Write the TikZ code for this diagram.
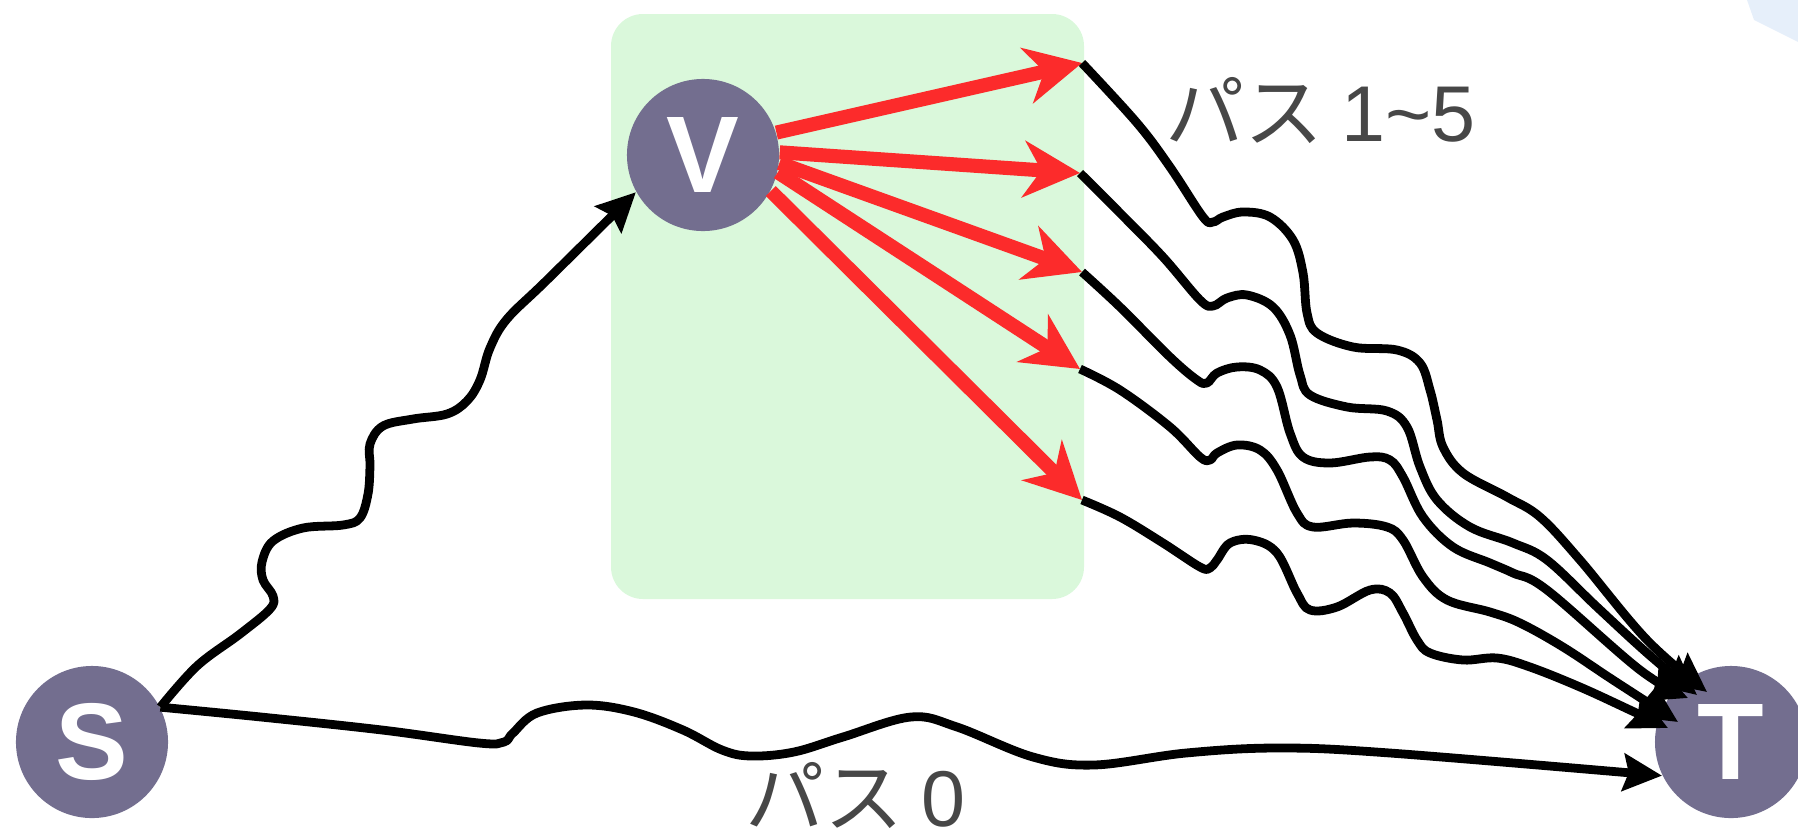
\documentclass[tikz,border=0pt]{standalone}
\usepackage{fontspec}
\usetikzlibrary{arrows.meta}
\newfontfamily\jpfont{Noto Sans CJK JP}
\newfontfamily\lblfont{Liberation Sans}
\definecolor{node_purple}{HTML}{736E8F}
\definecolor{box_green}{HTML}{DAF8DB}
\definecolor{path_red}{HTML}{FC2B2B}
\definecolor{text_gray}{HTML}{474747}
\definecolor{corner_blue}{HTML}{E6EFFA}
\tikzset{
  vertex/.style={circle, fill=node_purple, minimum size=1.52cm, inner sep=0pt, text=white, font=\lblfont\bfseries\fontsize{31}{31}\selectfont},
  hop/.style={-{Stealth[length=16pt, width=16pt, inset=5pt]}, draw=path_red, line width=4pt},
  wave/.style={-{Stealth[length=11pt, width=10.5pt, inset=1.5pt]}, draw=black, line width=2.5pt, line join=round},
  caption/.style={text=text_gray, font=\jpfont\fontsize{22.5}{27}\selectfont, inner sep=0pt, anchor=base west},
}
\newcommand{\wavy}[1]{\draw[wave] plot[smooth, tension=0.6] coordinates {#1};}

\begin{document}
\begin{tikzpicture}[x=0.01cm, y=-0.01cm]

  \useasboundingbox (0,0) rectangle (1798,839);

  % --- background ----------------------------------------------------------
  \fill[corner_blue] (1747,0) -- (1754,20) -- (1798,42) -- (1798,0) -- cycle;
  \fill[box_green, rounded corners=0.32cm] (611,14) rectangle (1084,599);

  % --- vertices ------------------------------------------------------------
  \node[vertex] (s) at (92,742) {S};
  \node[vertex] (v) at (703,155) {V};
  \node[vertex] (t) at (1731,742) {T};

  % ends of the red hops, and where the paths hit t
  \coordinate (p1) at (1082,63);
  \coordinate (p2) at (1080,173);
  \coordinate (p3) at (1082,272);
  \coordinate (p4) at (1080,369);
  \coordinate (p5) at (1082,500);
  \coordinate (in1) at ([shift={(-24,-50)}]t.center);
  \coordinate (in2) at ([shift={(-34,-47)}]t.center);
  \coordinate (in3) at ([shift={(-43,-44)}]t.center);
  \coordinate (in4) at ([shift={(-53,-20)}]t.center);
  \coordinate (in5) at ([shift={(-63,-14)}]t.center);

  % --- s to v, and path 0 --------------------------------------------------
  \wavy{(s.27) (197,666) (240,634) (270,609) (273,596) (263,580) (262,562)
    (273,541) (303,528) (343,525) (360,518) (368,494) (370,466) (370,444)
    (383,426) (413,419) (447,414) (467,401) (480,380) (490,348) (507,319)
    (547,280) (v.209)}
  \wavy{(s.27) (261,717) (382,730) (479,743) (504,742) (513,733) (537,713)
    (586,705) (634,712) (683,730) (722,750) (751,756) (794,752) (843,737)
    (911,717) (957,727) (1033,757) (1094,765) (1186,753) (1278,748)
    (1390,753) (t.206)}

  % --- red hops out of v ---------------------------------------------------
  \foreach \ang/\tip in {17/p1, 2/p2, -6/p3, -13/p4, -28/p5}
    \draw[hop] (v.\ang) -- (\tip);

  % --- paths 1 to 5 --------------------------------------------------------
  \wavy{(p1) (1137,123) (1170,167) (1203,217) (1213,222) (1223,217)
    (1243,212) (1270,217) (1293,240) (1303,273) (1307,313) (1317,333)
    (1353,347) (1397,350) (1420,363) (1430,390) (1437,420) (1443,447)
    (1463,473) (1507,497) (1540,517) (1580,560) (1647,640) (in1)}
  \wavy{(p2) (1120,213) (1163,257) (1200,300) (1213,306) (1227,298)
    (1247,295) (1273,307) (1290,335) (1300,375) (1310,395) (1347,407)
    (1387,411) (1407,427) (1420,467) (1437,500) (1470,527) (1513,543)
    (1547,560) (1597,607) (1647,653) (in2)}
  \wavy{(p3) (1120,307) (1170,357) (1197,380) (1207,383) (1217,373)
    (1237,367) (1260,370) (1277,387) (1290,433) (1303,457) (1330,463)
    (1370,457) (1390,460) (1403,477) (1423,517) (1453,547) (1490,563)
    (1513,573) (1547,590) (1640,670) (in3)}
  \wavy{(p4) (1120,390) (1170,427) (1200,457) (1210,460) (1217,453)
    (1237,445) (1260,450) (1277,470) (1297,513) (1313,527) (1353,523)
    (1387,527) (1403,540) (1423,577) (1447,600) (1490,612) (1520,623)
    (1563,647) (1613,680) (in4)}
  \wavy{(p5) (1120,517) (1163,543) (1200,567) (1210,568) (1217,560)
    (1230,543) (1253,540) (1277,553) (1297,593) (1310,610) (1337,607)
    (1370,590) (1390,593) (1403,613) (1417,640) (1430,653) (1463,660)
    (1497,658) (1530,667) (1580,687) (1630,710) (in5)}

  % --- labels --------------------------------------------------------------
  \node[caption] (lbl15) at (1165,141) {パス {\lblfont 1\textasciitilde5}};
  \node[caption] (lbl0) at (745,826) {パス {\lblfont 0}};

\end{tikzpicture}
\end{document}
